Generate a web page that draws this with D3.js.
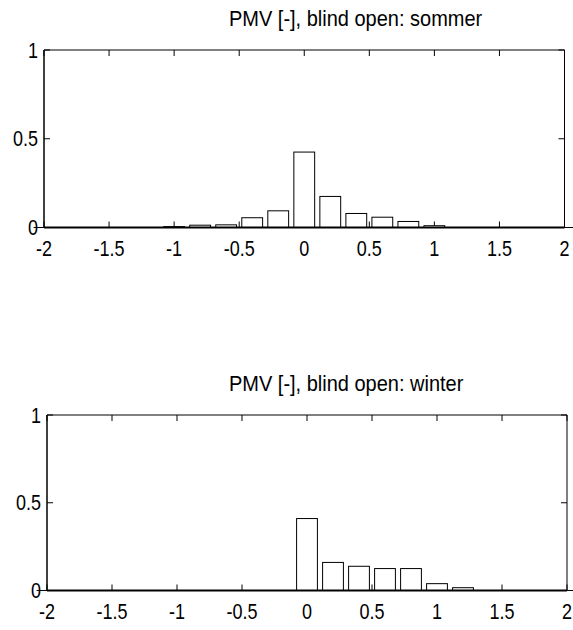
<!DOCTYPE html>
<html>
<head>
<meta charset="utf-8">
<script src="https://cdn.jsdelivr.net/npm/d3@7"></script>
<style>
  body { margin: 0; background: #fff; }
  text { font-family: "Liberation Sans", Arial, Helvetica, sans-serif; fill: #000; }
</style>
</head>
<body>
<svg id="chart" width="573" height="630"></svg>
<script>
// PMV histogram bins (bin centres) and relative frequencies per season
const pmvBins = [-2, -1.8, -1.6, -1.4, -1.2, -1, -0.8, -0.6, -0.4, -0.2, 0,
                 0.2, 0.4, 0.6, 0.8, 1, 1.2, 1.4, 1.6, 1.8, 2];
const sommerFreq = [0, 0, 0, 0, 0, 0.005, 0.013, 0.015, 0.055, 0.094, 0.425,
                    0.175, 0.079, 0.058, 0.034, 0.010, 0, 0, 0, 0, 0];
const winterFreq = [0, 0, 0, 0, 0, 0, 0, 0, 0, 0, 0.41,
                    0.16, 0.138, 0.125, 0.125, 0.039, 0.016, 0, 0, 0, 0];
const xTicks = [-2, -1.5, -1, -0.5, 0, 0.5, 1, 1.5, 2];
const yTicks = [0, 0.5, 1];
const titles = ["PMV [-], blind open: sommer", "PMV [-], blind open: winter"];

const svg = d3.select("#chart");

const panels = [
  { title: titles[0], values: sommerFreq, left: 44, right: 564.5, top: 50, bottom: 227.5, titleX: 229, titleY: 26 },
  { title: titles[1], values: winterFreq, left: 47, right: 567, top: 415, bottom: 590.5, titleX: 229, titleY: 391 }
];

const binWidth = 0.2 * 0.8;
const tickLen = 6;
const stretch = 1.2; // labels are drawn slightly tall

function label(g, x, y, str, size, anchor, sy) {
  g.append("text")
    .attr("transform", `translate(${x},${y}) scale(1,${sy})`)
    .attr("text-anchor", anchor).attr("font-size", size)
    .text(str);
}

panels.forEach(p => {
  const x = d3.scaleLinear().domain([-2, 2]).range([p.left, p.right]);
  const y = d3.scaleLinear().domain([0, 1]).range([p.bottom, p.top]);
  const g = svg.append("g");

  // box: top and right edges
  g.append("line").attr("x1", p.left).attr("x2", p.right).attr("y1", p.top).attr("y2", p.top)
    .attr("stroke", "#000").attr("stroke-width", 1);
  g.append("line").attr("x1", p.right).attr("x2", p.right).attr("y1", p.top).attr("y2", p.bottom)
    .attr("stroke", "#000").attr("stroke-width", 1);

  // inward ticks on all four sides
  xTicks.forEach(t => {
    g.append("line").attr("x1", x(t)).attr("x2", x(t)).attr("y1", p.bottom).attr("y2", p.bottom - tickLen)
      .attr("stroke", "#000").attr("stroke-width", 1);
    g.append("line").attr("x1", x(t)).attr("x2", x(t)).attr("y1", p.top).attr("y2", p.top + tickLen)
      .attr("stroke", "#000").attr("stroke-width", 1);
  });
  yTicks.forEach(t => {
    g.append("line").attr("x1", p.left).attr("x2", p.left + tickLen).attr("y1", y(t)).attr("y2", y(t))
      .attr("stroke", "#000").attr("stroke-width", 1);
    g.append("line").attr("x1", p.right).attr("x2", p.right - tickLen).attr("y1", y(t)).attr("y2", y(t))
      .attr("stroke", "#000").attr("stroke-width", 1);
  });

  // histogram bars
  g.selectAll("rect.bar").data(pmvBins.map((c, i) => ({ c, v: p.values[i] })))
    .join("rect").attr("class", "bar")
    .attr("x", d => x(d.c - binWidth / 2))
    .attr("width", d => x(d.c + binWidth / 2) - x(d.c - binWidth / 2))
    .attr("y", d => y(d.v))
    .attr("height", d => y(0) - y(d.v))
    .attr("fill", "#fff").attr("stroke", "#000").attr("stroke-width", 1);

  // left and bottom axis lines
  g.append("line").attr("x1", p.left).attr("x2", p.left).attr("y1", p.top).attr("y2", p.bottom)
    .attr("stroke", "#000").attr("stroke-width", 1.5);
  g.append("line").attr("x1", x(pmvBins[0] - binWidth / 2)).attr("x2", x(pmvBins[pmvBins.length - 1] + binWidth / 2))
    .attr("y1", p.bottom).attr("y2", p.bottom).attr("stroke", "#000").attr("stroke-width", 1);
  g.append("line").attr("x1", p.left).attr("x2", p.right)
    .attr("y1", p.bottom).attr("y2", p.bottom).attr("stroke", "#000").attr("stroke-width", 2);

  // tick labels
  xTicks.forEach(t => label(g, x(t), p.bottom + 28.5, String(t), 18, "middle", stretch));
  yTicks.forEach(t => label(g, p.left - 6, y(t) + 7.7, String(t), 18, "end", stretch));

  // title
  label(g, p.titleX, p.titleY, p.title, 20, "start", 1.12);
});
</script>
</body>
</html>
